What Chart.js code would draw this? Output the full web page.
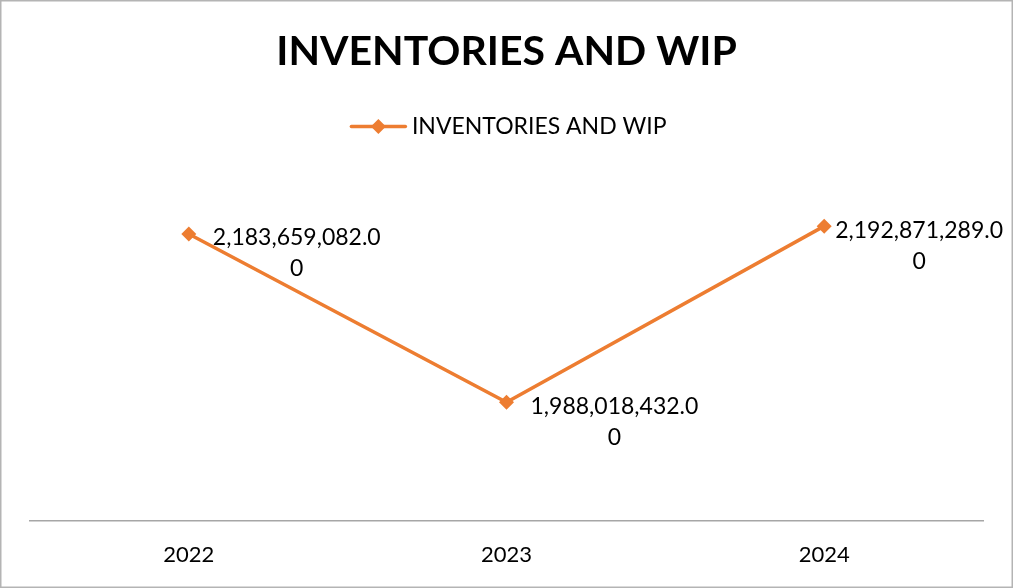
<!DOCTYPE html>
<html>
<head>
<meta charset="utf-8">
<script src="https://cdn.jsdelivr.net/npm/chart.js@4.4.1/dist/chart.umd.min.js"></script>
<style>
  html, body { margin: 0; padding: 0; background: #fff; }
  #wrap { width: 1013px; height: 588px; position: relative; }
</style>
</head>
<body>
<div id="wrap"><canvas id="c" width="1013" height="588"></canvas></div>
<script>
const titleText = "INVENTORIES AND WIP";
const seriesName = "INVENTORIES AND WIP";
const categories = ["2022", "2023", "2024"];
const values = [2183659082.00, 1988018432.00, 2192871289.00];
const yMin = 1850000000;
const yMax = 2250000000;

const ORANGE = "#ED7D31";
const FONT = "Lato, 'Open Sans', sans-serif";

const borderPlugin = {
  id: "outerBorder",
  afterDraw(chart) {
    const ctx = chart.ctx;
    ctx.save();
    ctx.strokeStyle = "#B4B4B4";
    ctx.lineWidth = 1.5;
    ctx.strokeRect(0.75, 0.75, chart.width - 1.5, chart.height - 1.5);
    ctx.restore();
  }
};

const legendSpace = {
  id: "legendSpace",
  beforeInit(chart) {
    const lg = chart.legend;
    const orig = lg.fit;
    lg.fit = function () {
      orig.call(this);
      this.height = 72;
    };
  },
  afterDraw(chart) {
    const lg = chart.legend;
    if (!lg || !lg.legendHitBoxes || !lg.legendHitBoxes.length) return;
    const hb = lg.legendHitBoxes[0];
    const bw = lg.options.labels.pointStyleWidth;
    const fs = lg.options.labels.font.size;
    const shift = 5;
    const cx = hb.left + bw / 2 + shift;
    const cy = hb.top + fs / 2;
    const ctx = chart.ctx;
    ctx.save();
    ctx.strokeStyle = ORANGE;
    ctx.lineWidth = 3.5;
    ctx.lineCap = "round";
    ctx.beginPath();
    ctx.moveTo(hb.left + shift, cy);
    ctx.lineTo(hb.left + bw + shift, cy);
    ctx.stroke();
    ctx.fillStyle = ORANGE;
    ctx.beginPath();
    const r = 7.5;
    ctx.moveTo(cx, cy - r);
    ctx.lineTo(cx + r, cy);
    ctx.lineTo(cx, cy + r);
    ctx.lineTo(cx - r, cy);
    ctx.closePath();
    ctx.fill();
    ctx.restore();
  }
};

const dataLabels = {
  id: "dataLabels",
  afterDatasetsDraw(chart) {
    const ctx = chart.ctx;
    const meta = chart.getDatasetMeta(0);
    const ds = chart.data.datasets[0];
    ctx.save();
    ctx.font = "23px " + FONT;
    ctx.fillStyle = "#000";
    ctx.textAlign = "center";
    ctx.textBaseline = "middle";
    meta.data.forEach((pt, i) => {
      const s = ds.data[i].toLocaleString("en-US", { minimumFractionDigits: 2, maximumFractionDigits: 2 });
      const line1 = s.slice(0, -1);
      const line2 = s.slice(-1);
      const w = ctx.measureText(line1).width;
      let left = pt.x + 24;
      if (left + w > chart.width - 10) left = chart.width - 10 - w;
      const cx = left + w / 2;
      ctx.fillText(line1, cx, pt.y + 4);
      ctx.fillText(line2, cx, pt.y + 35);
    });
    ctx.restore();
  }
};

new Chart(document.getElementById("c"), {
  type: "line",
  data: {
    labels: categories,
    datasets: [{
      label: seriesName,
      data: values,
      borderColor: ORANGE,
      backgroundColor: ORANGE,
      borderWidth: 3.5,
      pointStyle: "rectRot",
      pointRadius: 7.5,
      pointHoverRadius: 7.5,
      pointBackgroundColor: ORANGE,
      pointBorderColor: ORANGE,
      pointBorderWidth: 0,
      tension: 0,
      fill: false
    }]
  },
  options: {
    responsive: false,
    animation: false,
    devicePixelRatio: 1,
    layout: { padding: { left: 30, right: 30, top: 0, bottom: 20 } },
    plugins: {
      title: {
        display: true,
        text: titleText,
        color: "#000",
        font: { family: FONT, size: 41, weight: "bold", lineHeight: 1.2 },
        padding: { top: 27.4, bottom: 28.4 }
      },
      legend: {
        display: true,
        position: "top",
        labels: {
          color: "#000",
          font: { family: FONT, size: 23 },
          usePointStyle: true,
          pointStyle: "line",
          pointStyleWidth: 54,
          padding: 10
        }
      },
      tooltip: { enabled: false }
    },
    scales: {
      x: {
        offset: true,
        grid: { display: false, drawTicks: false },
        border: { display: true, color: "#A6A6A6", width: 1.5 },
        ticks: { color: "#000", font: { family: FONT, size: 22 }, padding: 21, maxRotation: 0 },
        afterFit(scale) { scale.height = 47; }
      },
      y: {
        display: false,
        min: yMin,
        max: yMax
      }
    }
  },
  plugins: [legendSpace, dataLabels, borderPlugin]
});
</script>
</body>
</html>
